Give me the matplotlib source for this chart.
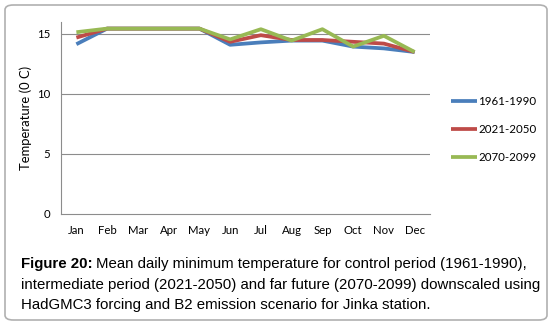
import matplotlib
matplotlib.use("Agg")
import matplotlib.pyplot as plt
from matplotlib.patches import FancyBboxPatch

months = ["Jan", "Feb", "Mar", "Apr", "May", "Jun", "Jul", "Aug", "Sep", "Oct", "Nov", "Dec"]
control = [14.15, 15.45, 15.45, 15.45, 15.45, 14.1, 14.3, 14.45, 14.45, 13.95, 13.8, 13.5]
intermediate = [14.7, 15.45, 15.45, 15.45, 15.45, 14.35, 14.9, 14.5, 14.5, 14.35, 14.2, 13.5]
far_future = [15.15, 15.45, 15.45, 15.45, 15.45, 14.55, 15.4, 14.45, 15.4, 13.95, 14.85, 13.5]
series_names = ["1961-1990", "2021-2050", "2070-2099"]
colors = ["#4a7ebb", "#be4b48", "#98b954"]

fig = plt.figure(figsize=(5.52, 3.25), dpi=100)
ax = fig.add_axes([61 / 552, 1 - 214 / 325, 369 / 552, 192 / 325])

for vals, name, c in zip([control, intermediate, far_future], series_names, colors):
    ax.plot(range(12), vals, color=c, lw=2.7, label=name, solid_capstyle="butt")

ax.set_xlim(-0.5, 11.5)
ax.set_ylim(0, 16)
ax.set_yticks([0, 5, 10, 15])
ax.set_xticks(range(12))
ax.set_xticklabels(months)
for y in [5, 10, 15]:
    ax.axhline(y, color="#8c8c8c", lw=0.8, zorder=0)
for s in ["top", "right"]:
    ax.spines[s].set_visible(False)
for s in ["left", "bottom"]:
    ax.spines[s].set_color("#8c8c8c")
    ax.spines[s].set_linewidth(0.8)
ax.tick_params(length=0, labelsize=8.2, pad=8)
for lab in ax.get_xticklabels() + ax.get_yticklabels():
    lab.set_fontfamily("Lato")
ax.set_ylabel("Temperature (0 C)", fontfamily="Lato", fontsize=9.4, labelpad=3)

leg = ax.legend(loc="upper left", bbox_to_anchor=(1.03, 0.67), frameon=False,
                prop={"family": "Lato", "size": 8.3}, handlelength=2.2,
                handletextpad=0.1, labelspacing=1.5)

frame = FancyBboxPatch((5 / 552, 5 / 325), 542 / 552, 315 / 325,
                       boxstyle="round,pad=0,rounding_size=0.015",
                       transform=fig.transFigure, fill=False,
                       edgecolor="#b0b0b0", lw=1.2)
fig.patches.append(frame)

cap_lines = ["Mean daily minimum temperature for control period (1961-1990),",
             "intermediate period (2021-2050) and far future (2070-2099) downscaled using",
             "HadGMC3 forcing and B2 emission scenario for Jinka station."]
fs = 10.8
x0 = 21 / 552
ys = [1 - 264 / 325, 1 - 285 / 325, 1 - 305 / 325]
bold = fig.text(x0, ys[0], "Figure 20:", fontweight="bold", fontsize=fs,
                fontfamily="Liberation Sans", va="center")
fig.canvas.draw()
bb = bold.get_window_extent(fig.canvas.get_renderer())
fig.text(bb.x1 / 552 + 3 / 552, ys[0], cap_lines[0], fontsize=fs,
         fontfamily="Liberation Sans", va="center")
for line, y in zip(cap_lines[1:], ys[1:]):
    fig.text(x0, y, line, fontsize=fs, fontfamily="Liberation Sans", va="center")

fig.savefig("out.png", dpi=100)
